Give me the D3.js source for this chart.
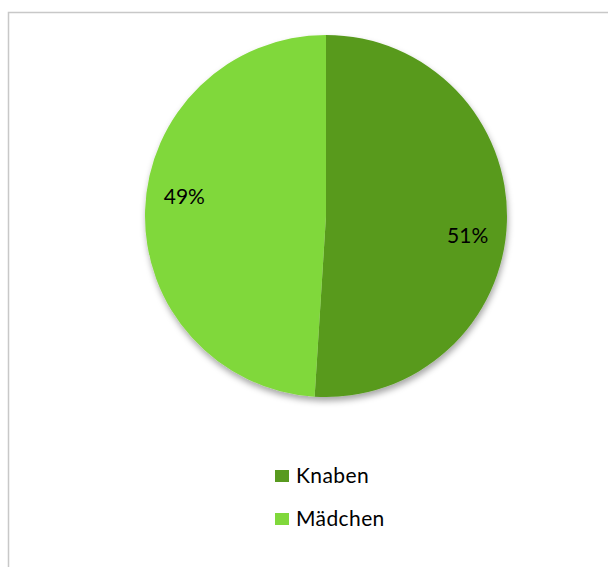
<!DOCTYPE html>
<html lang="de">
<head>
  <meta charset="UTF-8" />
  <title>Knaben / Mädchen</title>
  <style>
    body { margin: 0; background: #fff; }
    svg { display: block; }
    .label { font: 21px 'Lato', 'Open Sans', sans-serif; fill: #000; }
    .legend text { font: 21px 'Lato', 'Open Sans', sans-serif; fill: #000; letter-spacing: 0.4px; }
  </style>
</head>
<body>
  <svg id="chart" width="608" height="567"></svg>
  <script src="https://d3js.org/d3.v7.min.js"></script>
  <script>
    const categories = ["Knaben", "Mädchen"];
    const values = [51, 49];
    const colors = ["#589a1f", "#80d83b"];

    const svg = d3.select("#chart");
    const cx = 326, cy = 216, radius = 181;

    // chart frame (runs off the right and bottom edges)
    svg.append("rect")
      .attr("x", 8.5).attr("y", 12.5)
      .attr("width", 640).attr("height", 600)
      .attr("fill", "#fff")
      .attr("stroke", "#c8c8c8")
      .attr("stroke-width", 1.5);

    const defs = svg.append("defs");
    defs.append("filter").attr("id", "shadow")
      .attr("x", "-20%").attr("y", "-20%").attr("width", "140%").attr("height", "140%")
      .append("feDropShadow")
      .attr("dx", 1).attr("dy", 4).attr("stdDeviation", 3)
      .attr("flood-color", "#000").attr("flood-opacity", 0.35);

    const data = categories.map((c, i) => ({ name: c, value: values[i] }));
    const pie = d3.pie().value(d => d.value).sort(null);
    const arc = d3.arc().innerRadius(0).outerRadius(radius);
    const labelR = radius * 0.79;
    const labelTurn = 6 * Math.PI / 180; // excel nudges labels a bit clockwise
    const color = d3.scaleOrdinal().domain(categories).range(colors);

    const g = svg.append("g").attr("transform", `translate(${cx},${cy})`);
    const arcs = pie(data);

    g.append("g").attr("filter", "url(#shadow)")
      .selectAll("path")
      .data(arcs)
      .join("path")
      .attr("d", arc)
      .attr("fill", d => color(d.data.name));

    g.selectAll("text.label")
      .data(arcs)
      .join("text")
      .attr("class", "label")
      .attr("transform", d => {
        const a = (d.startAngle + d.endAngle) / 2 + labelTurn;
        return `translate(${labelR * Math.sin(a)},${-labelR * Math.cos(a)})`;
      })
      .attr("text-anchor", "middle")
      .attr("dy", "0.35em")
      .text(d => d3.format(".0%")(d.data.value / d3.sum(values)));

    const legend = svg.append("g").attr("class", "legend")
      .attr("transform", "translate(275,470)");
    const item = legend.selectAll("g")
      .data(categories)
      .join("g")
      .attr("transform", (d, i) => `translate(0,${i * 43})`);
    item.append("rect")
      .attr("width", 14).attr("height", 12)
      .attr("fill", d => color(d));
    item.append("text")
      .attr("x", 21).attr("y", 13)
      .text(d => d);
  </script>
</body>
</html>
